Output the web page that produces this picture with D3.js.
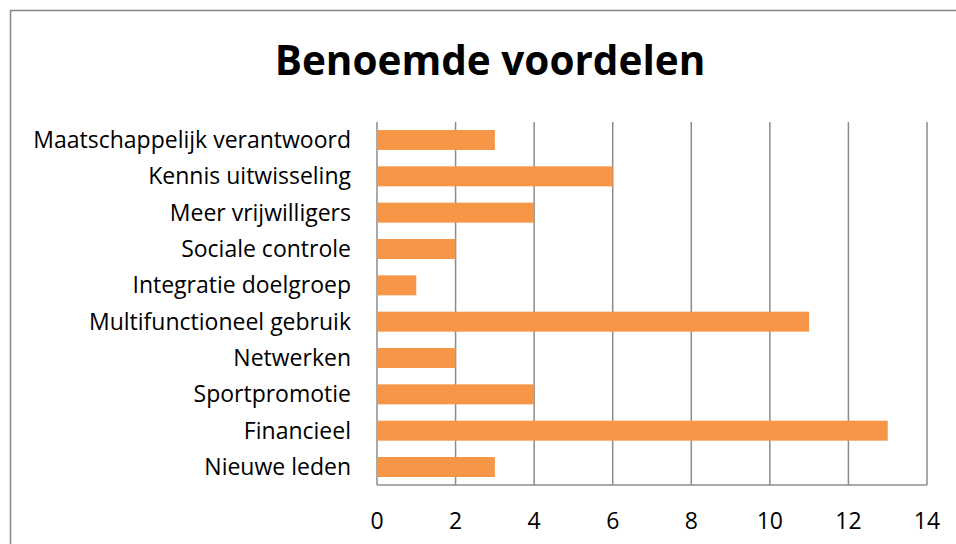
<!DOCTYPE html>
<html>
<head>
<meta charset="utf-8">
<script src="https://cdn.jsdelivr.net/npm/d3@7"></script>
<style>
  body { margin: 0; background: #fff; }
  text { font-family: "Open Sans", Lato, sans-serif; fill: #000; font-variant-ligatures: none; }
</style>
</head>
<body>
<svg id="chart"></svg>
<script>
// Data
const categories = [
  "Maatschappelijk verantwoord",
  "Kennis uitwisseling",
  "Meer vrijwilligers",
  "Sociale controle",
  "Integratie doelgroep",
  "Multifunctioneel gebruik",
  "Netwerken",
  "Sportpromotie",
  "Financieel",
  "Nieuwe leden"
];
const values = [3, 6, 4, 2, 1, 11, 2, 4, 13, 3];
const xTicks = [0, 2, 4, 6, 8, 10, 12, 14];
const title = "Benoemde voordelen";

const W = 956, H = 544;
const plot = { left: 377, right: 927, top: 122, bottom: 485 };

const svg = d3.select("#chart")
  .attr("width", W)
  .attr("height", H);

// Outer frame (only top and left edges are in view)
svg.append("rect")
  .attr("x", 10.5).attr("y", 10.5)
  .attr("width", W).attr("height", H)
  .attr("fill", "none")
  .attr("stroke", "#868686")
  .attr("stroke-width", 1.5);

// Title
svg.append("text")
  .attr("x", 490)
  .attr("y", 75)
  .attr("text-anchor", "middle")
  .style("font-size", "40.5px")
  .style("font-weight", "bold")
  .text(title);

// Scales
const x = d3.scaleLinear()
  .domain([0, 14])
  .range([plot.left, plot.right]);

const y = d3.scaleBand()
  .domain(categories)
  .range([plot.top, plot.bottom])
  .paddingInner(0.45)
  .paddingOuter(0.22);

// Vertical gridlines
svg.append("g")
  .selectAll("line")
  .data(xTicks)
  .enter().append("line")
  .attr("x1", d => x(d)).attr("x2", d => x(d))
  .attr("y1", plot.top).attr("y2", plot.bottom)
  .attr("stroke", "#8c8c8c")
  .attr("stroke-width", 1.5);

// Bottom axis line
svg.append("line")
  .attr("x1", plot.left).attr("x2", plot.right)
  .attr("y1", plot.bottom).attr("y2", plot.bottom)
  .attr("stroke", "#8c8c8c")
  .attr("stroke-width", 1.5);

// Bars
svg.append("g")
  .selectAll("rect")
  .data(categories)
  .enter().append("rect")
  .attr("x", x(0) + 1)
  .attr("y", d => y(d))
  .attr("width", (d, i) => x(values[i]) - x(0) - 1)
  .attr("height", y.bandwidth())
  .attr("fill", "#F79646");

// Category labels
svg.append("g")
  .selectAll("text")
  .data(categories)
  .enter().append("text")
  .attr("x", 351)
  .attr("y", d => y(d) + y.bandwidth() / 2)
  .attr("dy", "0.35em")
  .attr("text-anchor", "end")
  .style("font-size", "23px")
  .text(d => d);

// Tick labels
svg.append("g")
  .selectAll("text")
  .data(xTicks)
  .enter().append("text")
  .attr("x", d => x(d))
  .attr("y", 521)
  .attr("dy", "0.35em")
  .attr("text-anchor", "middle")
  .style("font-size", "23px")
  .text(d => d);
</script>
</body>
</html>
